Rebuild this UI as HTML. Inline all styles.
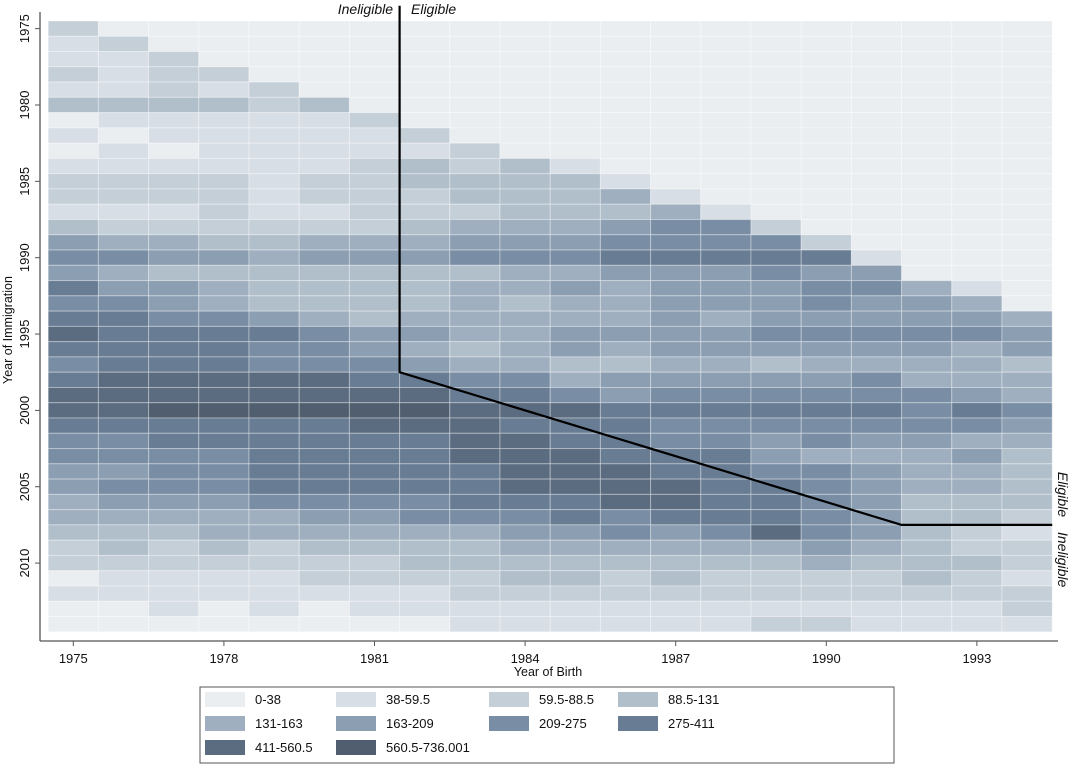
<!DOCTYPE html>
<html><head><meta charset="utf-8"><style>
body{margin:0;background:#fff;}
svg text{font-family:"Liberation Sans",sans-serif;}
</style></head><body>
<svg id="c" width="1072" height="766" xmlns="http://www.w3.org/2000/svg"></svg>
<script>
const birthYears=[1975,1976,1977,1978,1979,1980,1981,1982,1983,1984,1985,1986,1987,1988,1989,1990,1991,1992,1993,1994];
const immYears=[];for(let y=1975;y<=2014;y++)immYears.push(y);
const xTicks=[1975,1978,1981,1984,1987,1990,1993];
const yTicks=[1975,1980,1985,1990,1995,2000,2005,2010];
const binLabels=["0-38","38-59.5","59.5-88.5","88.5-131","131-163","163-209","209-275","275-411","411-560.5","560.5-736.001"];
const binColors=["#eaeef1","#d8dee5","#c5cfd8","#b1bfcb","#9fafbf","#8c9eb2","#798ea5","#687c93","#5c6c80","#505e6f"];
const r00=[2,0,0,0,0,0,0,0,0,0,0,0,0,0,0,0,0,0,0,0];
const r01=[1,2,0,0,0,0,0,0,0,0,0,0,0,0,0,0,0,0,0,0];
const r02=[1,1,2,0,0,0,0,0,0,0,0,0,0,0,0,0,0,0,0,0];
const r03=[2,1,2,2,0,0,0,0,0,0,0,0,0,0,0,0,0,0,0,0];
const r04=[1,1,2,1,2,0,0,0,0,0,0,0,0,0,0,0,0,0,0,0];
const r05=[3,3,3,3,2,3,0,0,0,0,0,0,0,0,0,0,0,0,0,0];
const r06=[0,1,1,1,1,1,2,0,0,0,0,0,0,0,0,0,0,0,0,0];
const r07=[1,0,1,1,1,1,1,2,0,0,0,0,0,0,0,0,0,0,0,0];
const r08=[0,1,0,1,1,1,1,1,2,0,0,0,0,0,0,0,0,0,0,0];
const r09=[1,1,1,1,1,1,2,3,2,3,1,0,0,0,0,0,0,0,0,0];
const r10=[2,2,2,2,1,2,2,3,3,3,3,1,0,0,0,0,0,0,0,0];
const r11=[2,2,2,2,1,2,2,2,3,3,3,4,1,0,0,0,0,0,0,0];
const r12=[1,1,1,2,1,1,2,2,2,3,3,3,4,1,0,0,0,0,0,0];
const r13=[3,2,2,2,2,2,2,3,4,4,4,5,6,6,2,0,0,0,0,0];
const r14=[5,4,4,3,3,4,4,4,5,5,5,6,6,6,6,2,0,0,0,0];
const r15=[6,6,5,5,4,5,5,5,6,6,6,7,7,7,7,7,1,0,0,0];
const r16=[5,4,3,3,3,3,3,3,3,4,4,5,5,5,6,5,5,0,0,0];
const r17=[7,5,5,4,3,3,3,3,4,4,5,4,5,5,5,6,6,4,1,0];
const r18=[6,6,5,4,3,3,3,3,4,3,4,4,5,5,5,6,5,5,4,0];
const r19=[7,7,6,6,5,4,3,4,4,4,4,4,5,4,5,5,5,5,5,4];
const r20=[8,7,7,7,7,6,5,5,4,4,5,5,5,5,6,6,6,6,6,5];
const r21=[7,7,7,7,6,6,5,4,3,4,5,4,5,5,5,5,5,5,4,5];
const r22=[6,7,7,7,6,6,6,5,4,4,3,3,4,4,3,4,4,4,4,3];
const r23=[7,8,8,8,8,8,7,7,6,6,4,5,5,5,5,5,6,4,4,4];
const r24=[8,8,8,8,8,8,8,8,7,7,6,5,6,6,6,6,6,6,5,4];
const r25=[8,8,9,9,9,9,9,9,8,8,8,7,7,7,7,7,7,6,7,6];
const r26=[7,7,7,7,7,7,8,8,8,7,7,7,6,6,6,6,6,6,6,5];
const r27=[6,6,7,7,7,7,7,7,8,8,7,7,6,6,5,6,5,5,4,4];
const r28=[6,6,6,6,7,7,7,7,8,8,8,7,7,7,5,4,4,4,5,3];
const r29=[5,5,6,6,7,7,7,7,7,8,8,8,7,7,6,6,5,4,4,3];
const r30=[5,6,6,6,7,7,7,7,7,8,8,8,8,7,7,6,5,4,4,3];
const r31=[4,5,5,5,6,6,6,6,7,7,7,8,8,7,7,6,5,3,3,3];
const r32=[4,4,4,4,4,5,5,6,6,6,7,6,7,7,7,6,5,3,3,2];
const r33=[3,3,3,4,4,4,4,4,4,5,5,6,5,6,8,6,5,3,2,1];
const r34=[2,3,2,3,2,3,3,3,3,4,4,4,4,4,4,5,4,3,2,2];
const r35=[2,2,2,2,2,2,2,3,3,3,3,3,3,3,3,4,3,3,3,2];
const r36=[0,1,1,1,1,2,2,2,2,3,3,2,3,2,2,2,2,3,2,1];
const r37=[1,1,1,1,1,1,1,1,2,2,2,2,2,2,2,2,2,2,2,2];
const r38=[0,0,1,0,1,0,1,1,1,1,1,1,1,1,1,1,1,1,1,2];
const r39=[0,0,0,0,0,0,0,0,1,1,1,1,1,1,2,2,1,1,1,1];
const grid=[r00,r01,r02,r03,r04,r05,r06,r07,r08,r09,r10,r11,r12,r13,r14,r15,r16,r17,r18,r19,r20,r21,r22,r23,r24,r25,r26,r27,r28,r29,r30,r31,r32,r33,r34,r35,r36,r37,r38,r39];
const boundaryX=[1981.5,1981.5,1991.5,1994.5];
const boundaryY=[1973.5,1997.5,2007.5,2007.5];

const NS="http://www.w3.org/2000/svg";
const svg=document.getElementById('c');
const cw=50.2, rh=15.27;
const xS=v=>48.2+(v-1975+0.5)*cw;
const yS=v=>21+(v-1975+0.5)*rh;
function mk(t,a,p){const e=document.createElementNS(NS,t);for(const k in a)e.setAttribute(k,a[k]);(p||svg).appendChild(e);return e;}

const cells=mk('g',{});


grid.forEach((row,ri)=>{row.forEach((b,ci)=>{
  const r=mk('rect',{x:xS(birthYears[ci])-cw/2,y:yS(immYears[ri])-rh/2,width:cw,height:rh,fill:binColors[b],stroke:'rgba(255,255,255,0.35)','stroke-width':1},cells);
  
  
});});

let d='';boundaryX.forEach((v,i)=>{d+=(i?'L':'M')+xS(v)+','+Math.max(0,yS(boundaryY[i]))+' ';});
const bl=mk('path',{d:d,fill:'none',stroke:'#000','stroke-width':2.2});



const ya=mk('line',{x1:40,y1:12,x2:40,y2:641,stroke:'#555','stroke-width':1.3});


const xa=mk('line',{x1:40,y1:641,x2:1058,y2:641,stroke:'#555','stroke-width':1.3});


yTicks.forEach(v=>{
  const y=yS(v);
  const t=mk('line',{x1:35,y1:y,x2:40,y2:y,stroke:'#555'});
  
  
  const l=mk('text',{x:0,y:0,transform:`translate(29,${y}) rotate(-90)`,'text-anchor':'middle','font-size':13,fill:'#111'});
  l.textContent=v;
  
  
});
xTicks.forEach(v=>{
  const x=xS(v);
  const t=mk('line',{x1:x,y1:641,x2:x,y2:646,stroke:'#555'});
  
  
  const l=mk('text',{x:x,y:663,'text-anchor':'middle','font-size':13,fill:'#111'});
  l.textContent=v;
  
  
});
const xt=mk('text',{x:548,y:676,'text-anchor':'middle','font-size':12.5,fill:'#111'});
xt.textContent='Year of Birth';


const yt=mk('text',{x:0,y:0,transform:'translate(12,330) rotate(-90)','text-anchor':'middle','font-size':12.5,fill:'#111'});
yt.textContent='Year of Immigration';



const a1=mk('text',{x:393,y:14,'text-anchor':'end','font-size':14,'font-style':'italic',fill:'#111'});
a1.textContent='Ineligible';


const a2=mk('text',{x:411,y:14,'font-size':14,'font-style':'italic',fill:'#111'});
a2.textContent='Eligible';


const a3=mk('text',{x:0,y:0,transform:'translate(1058,517) rotate(90)','text-anchor':'end','font-size':14,'font-style':'italic',fill:'#111'});
a3.textContent='Eligible';


const a4=mk('text',{x:0,y:0,transform:'translate(1058,532) rotate(90)','font-size':14,'font-style':'italic',fill:'#111'});
a4.textContent='Ineligible';



const lg=mk('g',{});


mk('rect',{x:200,y:687,width:694,height:76,fill:'#fff',stroke:'#555','stroke-width':1},lg);
const colX=[205,336,489,618];
binLabels.forEach((lab,i)=>{
  const cx=colX[i%4], cy=692+Math.floor(i/4)*24;
  const e=mk('g',{},lg);
  
  
  mk('rect',{x:cx,y:cy,width:40,height:15,fill:binColors[i]},e);
  const t=mk('text',{x:cx+50,y:cy+12,'font-size':13,fill:'#111'},e);
  t.textContent=lab;
});
</script>
</body></html>
